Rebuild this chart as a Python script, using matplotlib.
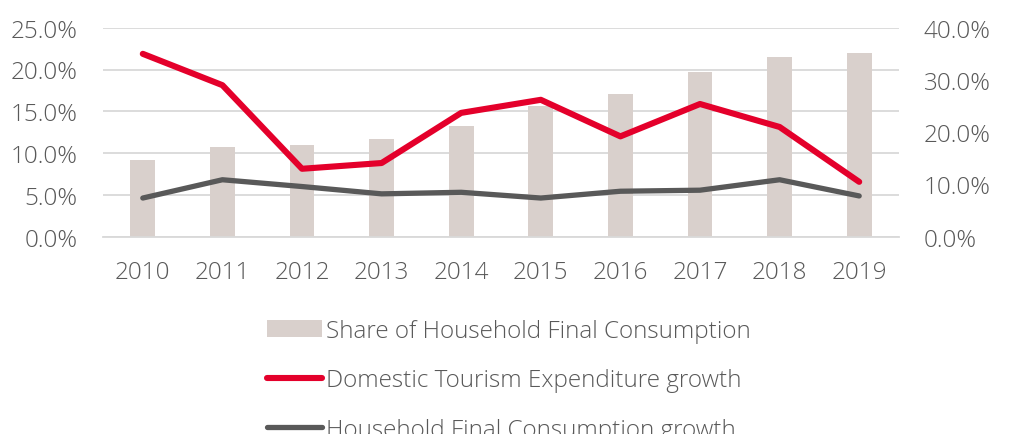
import matplotlib
matplotlib.use("Agg")
import matplotlib.pyplot as plt
from matplotlib.ticker import FuncFormatter, MultipleLocator
import numpy as np

years = ["2010", "2011", "2012", "2013", "2014", "2015", "2016", "2017", "2018", "2019"]
share_household = [9.2, 10.7, 11.0, 11.65, 13.2, 15.6, 17.1, 19.7, 21.5, 22.0]
domestic_growth = [35.0, 29.0, 13.0, 14.1, 23.7, 26.2, 19.2, 25.4, 21.0, 10.5]
household_growth = [7.4, 10.9, 9.6, 8.2, 8.5, 7.4, 8.7, 8.9, 10.9, 7.8]

plt.rcParams['font.family'] = ['Open Sans', 'DejaVu Sans']
plt.rcParams['font.weight'] = 'light'
TXT = '#595959'
FS = 17.5

fig = plt.figure(figsize=(10.12, 4.35), dpi=100)
ax = fig.add_axes([103/1012, 1 - 237.7/435, (899-103)/1012, (237.7-28.7)/435])
ax2 = ax.twinx()

x = np.arange(len(years))
b = ax.bar(x, share_household, width=0.31, color='#d9d0cc', zorder=2,
           label='Share of Household Final Consumption')
l1, = ax2.plot(x, domestic_growth, color='#e4002b', lw=4.4, solid_capstyle='round',
               label='Domestic Tourism Expenditure growth', zorder=3)
l2, = ax2.plot(x, household_growth, color='#595959', lw=3.8, solid_capstyle='round',
               label='Household Final Consumption growth', zorder=3)

ax.set_xlim(-0.5, len(years) - 0.5)
ax.set_ylim(0, 25)
ax2.set_ylim(0, 40)
ax.yaxis.set_major_locator(MultipleLocator(5))
ax2.yaxis.set_major_locator(MultipleLocator(10))
fmt = FuncFormatter(lambda v, p: f"{v:.1f}%")
ax.yaxis.set_major_formatter(fmt)
ax2.yaxis.set_major_formatter(fmt)
ax.set_xticks(x)
ax.set_xticklabels(years)

ax.grid(axis='y', color='#d9d9d9', lw=1.3, zorder=0)
ax.set_axisbelow(True)
for a in (ax, ax2):
    for s in a.spines.values():
        s.set_visible(False)
    a.tick_params(length=0, labelsize=FS, labelcolor=TXT)
ax.spines['bottom'].set_visible(True)
ax.spines['bottom'].set_color('#d9d9d9')
ax.spines['bottom'].set_linewidth(1.3)
ax.tick_params(axis='y', pad=18.5)
ax.tick_params(axis='x', pad=17)
ax2.tick_params(axis='y', pad=18)

ax2.set_zorder(ax.get_zorder() + 1)
ax2.patch.set_visible(False)

leg = fig.legend([b, l1, l2], [b.get_label(), l1.get_label(), l2.get_label()],
                 loc='upper center', bbox_to_anchor=(0.503, 0.292), frameon=False,
                 fontsize=FS, labelcolor=TXT, handlelength=2.25, handletextpad=0.17,
                 labelspacing=1.04, borderpad=0)

fig.savefig('out.png', dpi=100)
